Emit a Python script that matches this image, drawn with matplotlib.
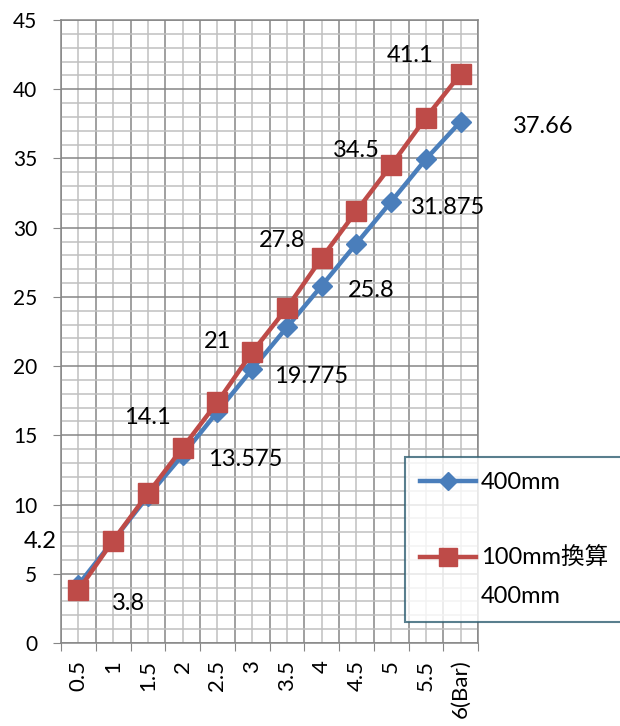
import matplotlib.pyplot as plt
from matplotlib.lines import Line2D

plt.rcParams['font.family'] = ['Lato', 'Noto Sans CJK JP', 'DejaVu Sans']

# data
categories = ['0.5', '1', '1.5', '2', '2.5', '3', '3.5', '4', '4.5', '5', '5.5', '6(Bar)']
vals_400 = [4.2, 7.4, 10.6, 13.575, 16.7, 19.775, 22.8, 25.8, 28.85, 31.875, 34.95, 37.66]
vals_100 = [3.8, 7.4, 10.8, 14.1, 17.4, 21.0, 24.2, 27.8, 31.2, 34.5, 37.95, 41.1]
label_400 = '400mm'
label_100 = '100mm換算'
label_100_2 = '400mm'

# which points carry a data label, and label offsets (px)
lab_idx = [0, 3, 5, 7, 9, 11]
off_400 = [(-38, 43, 'center'), (25, -4, 'left'), (22, -7, 'left'),
           (26, -5, 'left'), (20, -6, 'left'), (52, -5, 'left')]
off_100 = [(50, -13, 'center'), (-12, 30, 'right'), (-21, 11, 'right'),
           (-16, 18, 'right'), (-11, 15, 'right'), (-27, 18, 'right')]

blue = '#4A7EBB'
red = '#BE4B48'
major_c = '#868686'
minor_c = '#C0C0C0'

fig = plt.figure(figsize=(6.2, 7.26), dpi=100)
ax = fig.add_axes([61 / 620, 1 - 643 / 726, (478 - 61) / 620, (643 - 20) / 726])

x = list(range(len(categories)))
l1, = ax.plot(x, vals_400, color=blue, lw=3.2, marker='D', markersize=10,
              markerfacecolor=blue, markeredgecolor=blue, zorder=3)
l2, = ax.plot(x, vals_100, color=red, lw=3.2, marker='s', markersize=14,
              markerfacecolor=red, markeredgecolor=red, zorder=4)

ax.set_xlim(-0.5, len(categories) - 0.5)
ax.set_ylim(0, 45)

ax.set_xticks([i - 0.5 for i in range(len(categories) + 1)])
ax.set_xticklabels([])
ax.set_xticks(x, minor=True)
ax.set_xticklabels(categories, minor=True, rotation=90, fontsize=16)
ax.tick_params(axis='x', which='major', length=6, color=major_c, direction='out')
ax.tick_params(axis='x', which='minor', length=0, pad=12)

ax.set_yticks(range(0, 46, 5))
ax.set_yticks(range(0, 46, 1), minor=True)
ax.tick_params(axis='y', which='major', length=6, color=major_c, labelsize=15, pad=11)
ax.tick_params(axis='y', which='minor', length=0)

ax.grid(True, which='major', color=major_c, lw=1.1)
ax.grid(True, which='minor', color=minor_c, lw=1.1)
ax.set_axisbelow(True)
for s in ax.spines.values():
    s.set_color(major_c)
    s.set_linewidth(1.1)

for k, i in enumerate(lab_idx):
    dx, dy, ha = off_400[k]
    ax.annotate(f'{vals_400[i]:g}', (x[i], vals_400[i]), xytext=(dx * 0.72, dy * 0.72),
                textcoords='offset points', ha=ha, va='center', fontsize=17)
    dx, dy, ha = off_100[k]
    ax.annotate(f'{vals_100[i]:g}', (x[i], vals_100[i]), xytext=(dx * 0.72, dy * 0.72),
                textcoords='offset points', ha=ha, va='center', fontsize=17)

blank = Line2D([], [], linestyle='none')
leg = fig.legend([l1, blank, l2, blank], [label_400, '', label_100, label_100_2],
                 loc='upper left', mode='expand',
                 bbox_to_anchor=(405 / 620, 1 - 457 / 726, 240 / 620, 0),
                 fontsize=17, frameon=True, fancybox=False, handlelength=2.35,
                 handletextpad=0.2, labelspacing=0.7, borderpad=0.65,
                 borderaxespad=0, markerscale=0.9)
leg.get_frame().set_edgecolor('#2F5F72')
leg.get_frame().set_linewidth(1.5)

fig.savefig('out.png', dpi=100)
